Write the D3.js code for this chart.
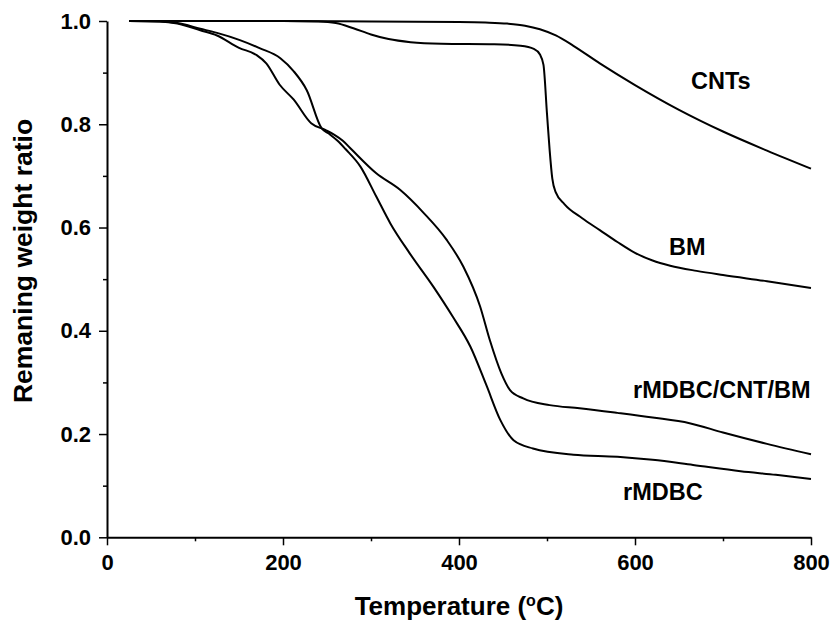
<!DOCTYPE html>
<html lang="en">
<head>
<meta charset="UTF-8">
<title>TGA curves</title>
<script src="https://d3js.org/d3.v7.min.js"></script>
<style>
  body { margin: 0; background: #fff; }
  text { font-family: "Liberation Sans", Arial, sans-serif; font-weight: bold; fill: #000; }
</style>
</head>
<body>
<script>

// temperature (C), remaining weight ratio
var cnts = [[25,1.0],[100,1.0],[200,1.0],[300,0.999],[400,0.998],[430,0.997],[455,0.995],[475,0.991],[492,0.984],[510,0.972],[530,0.952],[560,0.918],[600,0.876],[650,0.828],[700,0.786],[750,0.749],[800,0.714]];

var bm = [[25,1.0],[100,1.0],[200,1.0],[240,0.999],[260,0.996],[280,0.986],[300,0.974],[320,0.965],[345,0.959],[380,0.956],[440,0.955],[470,0.952],[485,0.946],[492,0.935],[496,0.915],[500,0.82],[503,0.75],[506,0.695],[510,0.668],[520,0.645],[540,0.618],[560,0.595],[580,0.572],[600,0.551],[620,0.536],[640,0.526],[670,0.516],[700,0.508],[750,0.496],[800,0.483]];

var compositeCurve = [[25,1.0],[60,0.999],[80,0.995],[106,0.982],[125,0.972],[150,0.948],[170,0.934],[181,0.918],[196,0.877],[212,0.848],[232,0.802],[248,0.789],[258,0.780],[268,0.768],[278,0.751],[306,0.705],[333,0.673],[360,0.628],[386,0.576],[405,0.524],[424,0.447],[435,0.382],[448,0.318],[458,0.285],[473,0.269],[503,0.256],[537,0.250],[580,0.241],[620,0.232],[662,0.221],[700,0.203],[750,0.181],[800,0.161]];

var rmdbc = [[25,1.0],[60,0.999],[80,0.996],[106,0.985],[125,0.977],[151,0.963],[174,0.947],[197,0.928],[212,0.903],[227,0.866],[244,0.792],[252,0.782],[262,0.768],[271,0.752],[288,0.718],[306,0.660],[322,0.608],[344,0.550],[371,0.485],[393,0.427],[413,0.369],[431,0.295],[447,0.227],[462,0.188],[484,0.172],[530,0.160],[580,0.156],[620,0.150],[666,0.140],[720,0.128],[760,0.121],[800,0.113]];

var seriesNames = ["CNTs", "BM", "rMDBC/CNT/BM", "rMDBC"];
var xTicks = [0, 200, 400, 600, 800];
var xMinor = [100, 300, 500, 700];
var yTicks = [0, 0.2, 0.4, 0.6, 0.8, 1.0];
var yMinor = [0.1, 0.3, 0.5, 0.7, 0.9];

var width = 835, height = 625;

var x = d3.scaleLinear().domain([0, 800]).range([107, 811]);
var y = d3.scaleLinear().domain([0, 1]).range([537.3, 21]);

var svg = d3.select("body").append("svg")
    .attr("width", width)
    .attr("height", height);

// minor ticks first
svg.append("g")
    .attr("transform", "translate(0,537.3)")
    .call(d3.axisBottom(x).tickValues(xMinor).tickSize(4).tickFormat(""))
    .call(function (g) { g.select(".domain").remove(); })
    .selectAll("line").attr("stroke-width", 1.5);

svg.append("g")
    .attr("transform", "translate(107,0)")
    .call(d3.axisLeft(y).tickValues(yMinor).tickSize(4).tickFormat(""))
    .call(function (g) { g.select(".domain").remove(); })
    .selectAll("line").attr("stroke-width", 1.5);

var xAxis = svg.append("g")
    .attr("transform", "translate(0,537.3)")
    .call(d3.axisBottom(x).tickValues(xTicks).tickSize(8).tickSizeOuter(0).tickPadding(9));

var yAxis = svg.append("g")
    .attr("transform", "translate(107,0)")
    .call(d3.axisLeft(y).tickValues(yTicks).tickSize(8).tickSizeOuter(0).tickPadding(8).tickFormat(d3.format(".1f")));

[xAxis, yAxis].forEach(function (g) {
    g.select(".domain").attr("stroke-width", 2);
    g.selectAll("line").attr("stroke-width", 1.5);
    g.selectAll("text")
        .style("font-size", "22px")
        .style("font-family", "'Liberation Sans', Arial, sans-serif")
        .style("font-weight", "bold")
        .attr("fill", "#000");
});

var line = d3.line()
    .x(function (d) { return x(d[0]); })
    .y(function (d) { return y(d[1]); })
    .curve(d3.curveMonotoneX);

[cnts, bm, compositeCurve, rmdbc].forEach(function (s) {
    svg.append("path")
        .datum(s)
        .attr("d", line)
        .attr("fill", "none")
        .attr("stroke", "#000")
        .attr("stroke-width", 2);
});

// curve labels
var labelPos = [[691, 89], [669, 255], [633, 398], [623, 500]];
svg.selectAll(".series-label")
    .data(seriesNames)
    .enter()
    .append("text")
    .attr("class", "series-label")
    .attr("x", function (d, i) { return labelPos[i][0]; })
    .attr("y", function (d, i) { return labelPos[i][1]; })
    .style("font-size", "23.5px")
    .text(function (d) { return d; });

// axis titles
var xt = svg.append("text")
    .attr("x", 459)
    .attr("y", 615)
    .attr("text-anchor", "middle")
    .style("font-size", "26px");
xt.append("tspan").text("Temperature (");
xt.append("tspan").attr("dy", -9).style("font-size", "16px").text("o");
xt.append("tspan").attr("dy", 9).text("C)");

svg.append("text")
    .attr("transform", "translate(32,261) rotate(-90)")
    .attr("text-anchor", "middle")
    .style("font-size", "26.5px")
    .text("Remaning weight ratio");

</script>
</body>
</html>
